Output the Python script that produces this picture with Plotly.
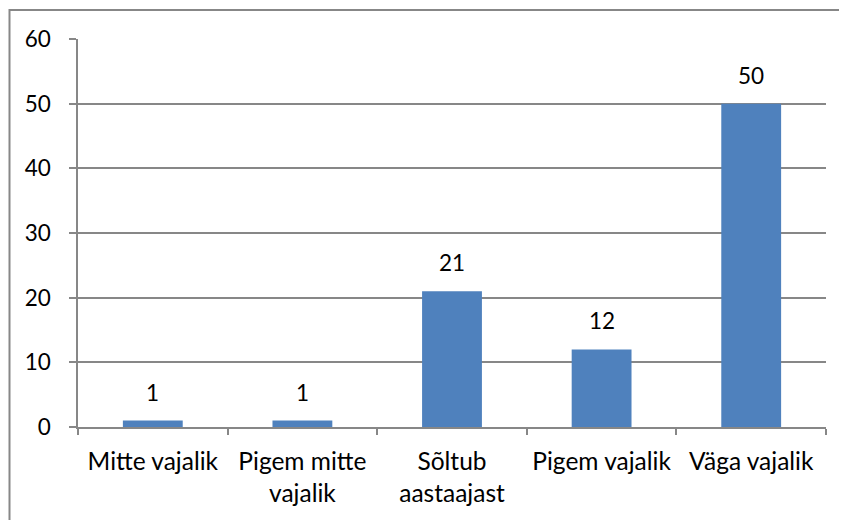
import plotly.graph_objects as go

categories = ["Mitte vajalik", "Pigem mitte<br>vajalik", "Sõltub<br>aastaajast", "Pigem vajalik", "Väga vajalik"]
values = [1, 1, 21, 12, 50]
y_ticks = [0, 10, 20, 30, 40, 50, 60]

FONT = "Lato"
GRAY = "#878787"

fig = go.Figure(go.Bar(
    x=categories, y=values, width=0.4,
    marker=dict(color="#4F81BD", line=dict(width=0)),
))

for c, v in zip(categories, values):
    fig.add_annotation(
        x=c, y=v, text=str(v), showarrow=False, yanchor="bottom", yshift=13,
        font=dict(family=FONT, size=22.5, color="black"),
    )

# page body has an 8px offset, so the figure is sized to fit the remaining window
W, H = 839, 512
L, R, T, B = 70, 21, 30.5, 93
pw = W - L - R
ph = H - T - B

fig.update_layout(
    width=W, height=H,
    margin=dict(l=L, r=R, t=T, b=B, autoexpand=False),
    paper_bgcolor="white", plot_bgcolor="white",
    showlegend=False,
    font=dict(family=FONT, size=22, color="black"),
    xaxis=dict(
        showgrid=False, showline=True, linecolor=GRAY, linewidth=1.5,
        ticks="outside", tickson="boundaries", ticklen=6, tickcolor=GRAY, tickwidth=1.5,
        tickfont=dict(family=FONT, size=24.5, color="black"), ticklabelstandoff=12,
    ),
    yaxis=dict(
        range=[0, 60], tickvals=y_ticks, showgrid=True, gridcolor=GRAY, gridwidth=1.5,
        showline=True, linecolor=GRAY, linewidth=1.5, zeroline=False,
        ticks="outside", ticklen=7, tickcolor=GRAY, tickwidth=1.5,
        tickfont=dict(family=FONT, size=22.5, color="black"), ticklabelstandoff=14,
    ),
    shapes=[dict(
        type="rect", xref="paper", yref="paper",
        x0=(1.5 - L) / pw, x1=1.2, y0=-0.5, y1=(H - B - 1.5) / ph,
        line=dict(color=GRAY, width=2), fillcolor="rgba(0,0,0,0)", layer="above",
    )],
)

fig.write_html("out.html")
